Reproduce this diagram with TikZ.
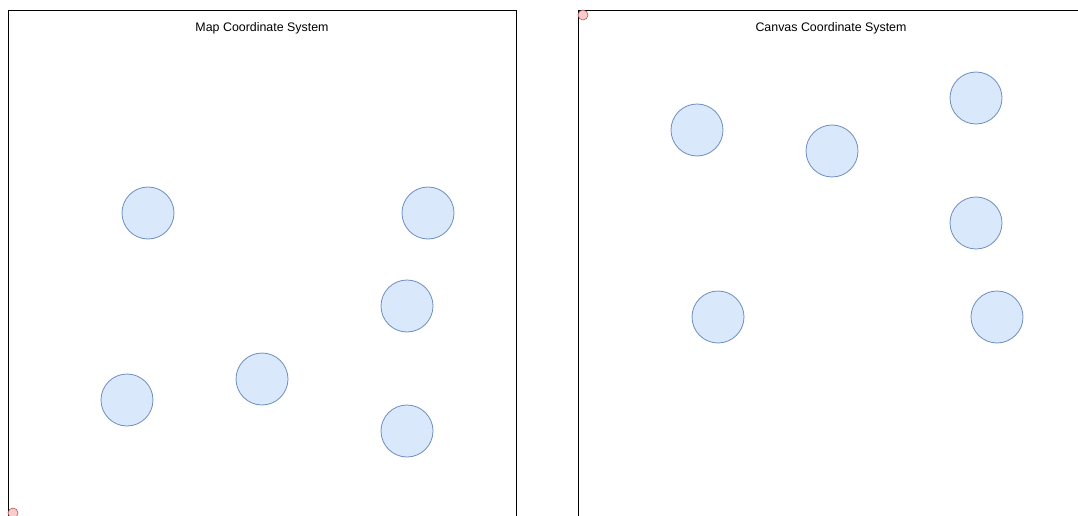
\documentclass[tikz,border=0pt]{standalone}
\usepackage{fontspec}
\setmainfont{Liberation Sans}
\definecolor{ptfill}{HTML}{DAE8FC}
\definecolor{ptdraw}{HTML}{6C8EBF}
\definecolor{orfill}{HTML}{F8CECC}
\definecolor{ordraw}{HTML}{B85450}

\begin{document}
\begin{tikzpicture}[x=1pt,y=-1pt,line width=0.8pt,
  pt/.style={circle,draw=ptdraw,fill=ptfill,minimum size=52pt,inner sep=0pt},
  origin/.style={circle,draw=ordraw,fill=orfill,minimum size=10pt,inner sep=0pt,line width=0.6pt},
  title/.style={font=\fontsize{12.4}{14}\selectfont}]
\clip (0,0) rectangle (1078,516);
\useasboundingbox (0,0) rectangle (1078,516);
% 左框：地图坐标系
\draw (8,530) -- (8,10) -- (516,10) -- (516,530);
\node[title] (maptitle) at (262,28.5) {Map Coordinate System};
% 右框：画布坐标系
\draw (578,530) -- (578,10) -- (1090,10);
\node[title] (cvtitle) at (831,28.5) {Canvas Coordinate System};
% 地图上的点
\node[pt] (m1) at (148,213) {};
\node[pt] (m2) at (428,213) {};
\node[pt] (m3) at (407,306) {};
\node[pt] (m4) at (262,379) {};
\node[pt] (m5) at (127,400) {};
\node[pt] (m6) at (407,431) {};
% 画布上的点
\node[pt] (c1) at (697,130) {};
\node[pt] (c2) at (832,151) {};
\node[pt] (c3) at (976,98) {};
\node[pt] (c4) at (976,223) {};
\node[pt] (c5) at (718,317) {};
\node[pt] (c6) at (997,317) {};
% 原点
\node[origin] (maporigin) at (13,513) {};
\node[origin] (cvorigin) at (583,15) {};
\end{tikzpicture}
\end{document}
